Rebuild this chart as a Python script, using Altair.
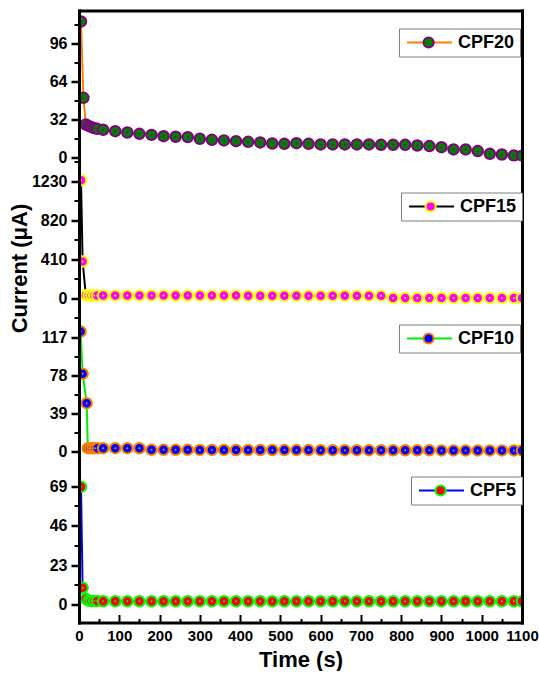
import altair as alt
import pandas as pd

FONT = "Liberation Sans"

# ---- data ----
time_main = [60, 90, 120, 150, 180, 210, 240, 270, 300, 330, 360, 390, 420, 450,
             480, 510, 540, 570, 600, 630, 660, 690, 720, 750, 780, 810, 840, 870,
             900, 930, 960, 990, 1020, 1050, 1080, 1100]

cpf20_t = [5, 11, 17, 24, 31, 38, 45] + time_main
cpf20_v = [115.0, 50.4, 27.9, 26.7, 25.6, 24.8, 24.2,
           23.4, 22.2, 21.1, 20.0, 19.1, 18.0, 17.5, 17.2, 15.8, 14.9, 14.4, 13.8,
           13.2, 12.7, 11.8, 11.5, 12.1, 11.5, 11.0, 11.0, 11.0, 11.0, 11.0, 10.7,
           10.7, 10.7, 10.1, 9.6, 8.7, 6.8, 6.8, 5.4, 3.1, 2.5, 1.7, 1.5]

cpf15_t = [5, 9, 17, 24, 31, 38, 45] + time_main
cpf15_v = [1238, 385, 30, 28, 28, 27, 27,
           27, 27, 27, 27, 27, 27, 26, 26, 26, 26, 26, 26, 25, 25, 25, 25, 25, 25,
           25, 25, 25, 25, 25, 25,
           1, 1, 1, 1, 1, 1, 1, 1, 1, 1, 1, 1]

cpf10_t = [4, 9, 19, 22, 28, 34, 40, 46] + time_main
cpf10_v = [123.5, 79.9, 49.5, 3.1, 3.1, 3.1, 3.1, 3.1,
           3.1, 3.1, 3.1, 3.0, 1.4, 1.4, 1.4, 1.4, 1.3, 1.3, 1.3, 1.2, 1.2, 1.2,
           1.2, 1.1, 1.1, 1.1, 1.0, 1.0, 1.0, 1.0, 1.0, 0.9, 0.9, 0.9, 0.9, 0.9,
           0.8, 0.8, 0.8, 0.8, 0.8, 0.8, 0.8, 0.8]

cpf5_t = [5, 9, 17, 24, 31, 38, 45] + time_main
cpf5_v = [68.6, 9.7, 3.3, 2.3, 2.0, 2.0, 2.0,
          1.9, 1.9, 1.9, 1.9, 1.9, 1.9, 1.9, 1.9, 1.9, 1.9, 1.9, 1.9, 1.9, 1.9,
          1.9, 1.9, 1.9, 1.9, 1.9, 1.9, 1.9, 1.9, 1.9, 1.9, 1.9, 1.9, 1.9, 1.9,
          1.9, 1.9, 1.9, 1.9, 1.9, 1.9, 1.9, 1.9]

series_names = ["CPF20", "CPF15", "CPF10", "CPF5"]
x_major = [0, 100, 200, 300, 400, 500, 600, 700, 800, 900, 1000, 1100]
x_minor = [50, 150, 250, 350, 450, 550, 650, 750, 850, 950, 1050]

y_major = [[0, 32, 64, 96], [0, 410, 820, 1230], [0, 39, 78, 117], [0, 23, 46, 69]]
y_minor = [[16, 48, 80, 112], [-205, 205, 615, 1025, 1435], [19.5, 58.5, 97.5],
           [11.5, 34.5, 57.5]]
y_domain = [[-3.4, 124.2], [-225, 1435], [-17.9, 135.9], [-10.5, 79.3]]

line_colors = ["#FF8000", "#000000", "#00EE00", "#0000FF"]
fill_colors = ["#008000", "#FF00FF", "#0000FF", "#FF0000"]
edge_colors = ["#800080", "#FFFF00", "#FF8000", "#00FF00"]

series_t = [cpf20_t, cpf15_t, cpf10_t, cpf5_t]
series_v = [cpf20_v, cpf15_v, cpf10_v, cpf5_v]

# ---- layout ----
W = 443
heights = [151, 158, 149, 154]
legend_pos = [(320, 18), (322, 31), (320, 5), (332, 8)]

# legend symbol geometry (symbolSize 144 -> 6 px per path unit)
LINE_PATH = "M-1,0L6.5,0"
cx, r = 2.6, 0.85
CIRCLE_PATH = f"M{cx - r},0A{r},{r} 0 1,0 {cx + r},0A{r},{r} 0 1,0 {cx - r},0Z"

common_leg = dict(orient="none", title=None, symbolSize=144, symbolStrokeWidth=2,
                  labelFont=FONT, labelFontSize=18, labelFontWeight="bold",
                  labelColor="black", labelOffset=36, padding=5)


def make_panel(i):
    name = series_names[i]
    fname = name + " "
    df = pd.DataFrame({"t": series_t[i], "v": series_v[i], "s": name, "f": fname})
    xs = alt.Scale(domain=[0, 1100], nice=False, zero=False)
    ys = alt.Scale(domain=y_domain[i], nice=False, zero=False)
    lx, ly = legend_pos[i]

    if i == 1:
        title_kw = dict(title="Current (\u03bcA)", titleFont=FONT, titleFontSize=22,
                        titleFontWeight="bold", titleColor="black", titleX=-59.5,
                        titleY=106.5, titleAngle=270, titleAlign="center",
                        titleBaseline="middle")
    else:
        title_kw = dict(title=None)

    ax_major = alt.Axis(orient="left", values=y_major[i], format="d", tickSize=8,
                        tickWidth=2.5, tickColor="black", domain=True, domainWidth=3,
                        domainColor="black", domainCap="square", labelFont=FONT,
                        labelFontSize=16, labelFontWeight="bold", labelColor="black",
                        labelPadding=4, labelOverlap=False, grid=False, zindex=1,
                        **title_kw)
    ax_minor = alt.Axis(orient="left", values=y_minor[i], tickSize=5, tickWidth=2,
                        tickColor="black", domain=False, labels=False, grid=False,
                        title=None, zindex=1)
    ax_right = alt.Axis(orient="right", ticks=False, labels=False, domain=True,
                        domainWidth=3, domainColor="black", domainCap="square",
                        grid=False, title=None, zindex=1)

    if i == 0:
        x1 = alt.Axis(orient="top", ticks=False, labels=False, domain=True,
                      domainWidth=3, domainColor="black", domainCap="square",
                      grid=False, title=None, zindex=1)
        x2 = None
        x3 = None
    elif i == 3:
        x1 = alt.Axis(orient="bottom", values=x_major, format="d", ticks=False,
                      tickSize=0, domain=True, domainWidth=3, domainColor="black",
                      domainCap="square", labelFont=FONT, labelFontSize=15,
                      labelFontWeight="bold", labelColor="black", labelPadding=6,
                      labelOverlap=False, labelFlush=False, grid=False, zindex=1,
                      title="Time (s)", titleFont=FONT, titleFontSize=22,
                      titleFontWeight="bold", titleColor="black", titlePadding=6)
        x2 = alt.Axis(orient="bottom", values=x_major, offset=-8, tickSize=8,
                      tickWidth=2, tickColor="black", domain=False, labels=False,
                      grid=False, title=None, zindex=1)
        x3 = alt.Axis(orient="bottom", values=x_minor, offset=-4, tickSize=4,
                      tickWidth=2, tickColor="black", domain=False, labels=False,
                      grid=False, title=None, zindex=1)
    else:
        x1 = x2 = x3 = None

    base = alt.Chart(df)
    line = base.mark_line(strokeWidth=2, clip=True).encode(
        x=alt.X("t:Q", scale=xs, axis=x1),
        y=alt.Y("v:Q", scale=ys, axis=ax_major),
        stroke=alt.Stroke("s:N", scale=alt.Scale(domain=[name], range=[line_colors[i]]),
                          legend=alt.Legend(legendX=lx, legendY=ly, symbolType=LINE_PATH,
                                            strokeColor="#808080", fillColor="white",
                                            zindex=1, **common_leg)),
    )
    pts = base.mark_point(filled=True, size=110, stroke=edge_colors[i], strokeWidth=2,
                          opacity=1, clip=True).encode(
        x=alt.X("t:Q", scale=xs, axis=x2),
        y=alt.Y("v:Q", scale=ys, axis=ax_minor),
        fill=alt.Fill("f:N", scale=alt.Scale(domain=[fname], range=[fill_colors[i]]),
                      legend=alt.Legend(legendX=lx, legendY=ly, symbolType=CIRCLE_PATH,
                                        symbolStrokeColor=edge_colors[i],
                                        symbolFillColor=fill_colors[i],
                                        labelOpacity=0, zindex=2, **common_leg)),
    )
    dots = base.mark_point(filled=True, size=4, color=edge_colors[i], opacity=1,
                           clip=True).encode(
        x=alt.X("t:Q", scale=xs, axis=x3),
        y=alt.Y("v:Q", scale=ys, axis=ax_right),
    )
    return (alt.layer(line, pts, dots)
            .resolve_axis(x="independent", y="independent")
            .properties(width=W, height=heights[i]))


chart = (alt.vconcat(*[make_panel(i) for i in range(4)], spacing=0, bounds="flush")
         .resolve_scale(x="independent", y="independent", stroke="independent",
                        fill="independent")
         .properties(padding={"left": 8, "top": 10.5, "right": 0, "bottom": 0},
                     background="white")
         .configure_view(stroke=None)
         .configure_concat(spacing=0))

chart.save("out.html", embed_options={"renderer": "svg", "actions": False})
